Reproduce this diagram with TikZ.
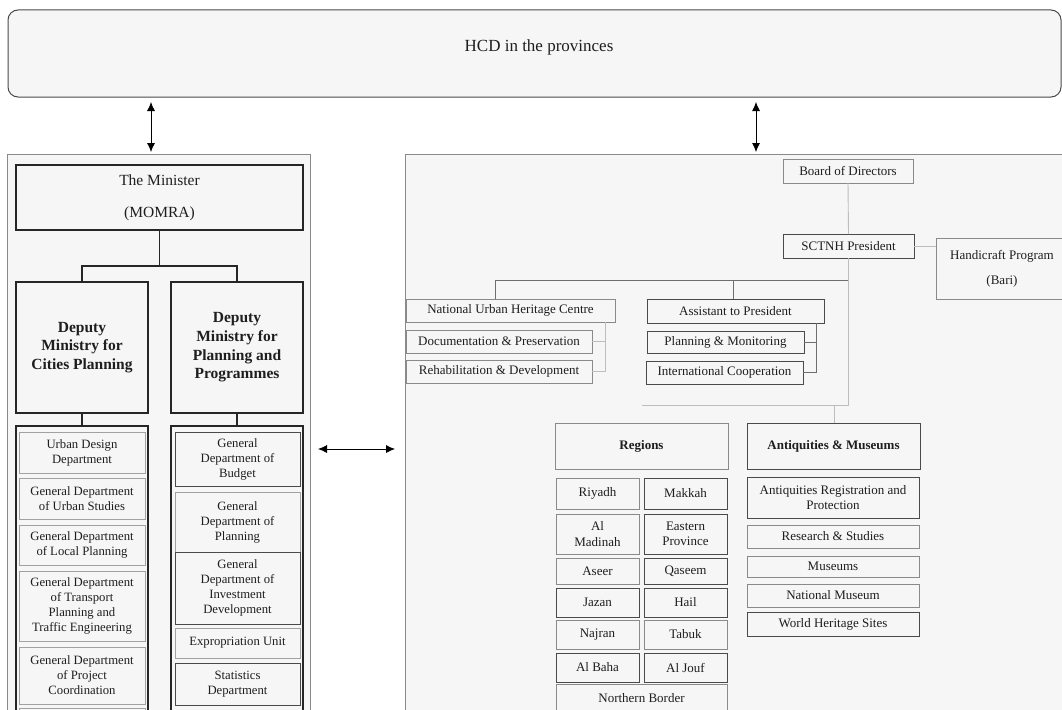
\documentclass[tikz,border=0pt]{standalone}
\usepackage{fontspec}
\setmainfont{Liberation Serif}
\usetikzlibrary{arrows.meta}
\definecolor{pfill}{HTML}{F6F6F6}
\definecolor{txt}{HTML}{1E1E1E}
\definecolor{lgray}{HTML}{BDBDBD}
\definecolor{mgray}{HTML}{8A8A8A}
\definecolor{dgray}{HTML}{4A4A4A}
\newcommand\bx[7]{\node[#6, minimum width={#4-#2}, minimum height={#5-#3}] (#1) at ({(#2+#4)/2},{(#3+#5)/2}) {#7};}
\begin{document}
\begin{tikzpicture}[x=1pt,y=-1pt,
  every node/.style={inner sep=0pt, outer sep=0pt, align=center, text=txt},
  panel/.style={draw=mgray, line width=1pt, fill=pfill},
  topbox/.style={draw=dgray, line width=1pt, fill=pfill, rounded corners=10pt},
  darkbox/.style={draw=black!85, line width=1.4pt, fill=pfill},
  lbox/.style={draw=mgray!80, line width=1pt, fill=pfill, font=\fontsize{12.7}{15}\selectfont},
  lboxd/.style={lbox, draw=dgray},
  rbox/.style={draw=mgray, line width=0.9pt, fill=pfill, font=\fontsize{13}{15.5}\selectfont},
  rboxd/.style={rbox, draw=dgray},
  hdr/.style={draw=mgray, line width=1pt, fill=pfill, font=\fontsize{13}{15.5}\selectfont\bfseries},
  depfont/.style={font=\fontsize{15.5}{18.7}\selectfont\bfseries},
  darkline/.style={draw=black!85, line width=1.4pt},
  midline/.style={draw=dgray!80, line width=1pt},
  lightline/.style={draw=lgray, line width=0.9pt},
  arr/.style={{Latex[length=9pt,width=8pt]}-{Latex[length=9pt,width=8pt]}, line width=0.8pt, draw=black}
]
\useasboundingbox (0,0) rectangle (1062,709);
\fill[white] (0,0) rectangle (1062,709);
\clip (0,0) rectangle (1062,709);

% top
\node[topbox, minimum width=1053, minimum height=87] (hcd) at (534.5,53.5) {};
\node[font=\fontsize{17}{20}\selectfont] (hcdt) at (539,47) {HCD in the provinces};

% panels
\bx{lp}{7}{154}{310}{750}{panel}{}
\bx{rp}{405}{154}{1075}{750}{panel}{}

% arrows
\coordinate (ax1) at (151,0);
\coordinate (ax2) at (756,0);
\coordinate (ay) at (0,449);
\draw[arr, shorten <=5pt, shorten >=2pt] (hcd.south -| ax1) -- (lp.north -| ax1);
\draw[arr, shorten <=5pt, shorten >=2pt] (hcd.south -| ax2) -- (rp.north -| ax2);
\draw[arr, shorten <=8pt, shorten >=10pt] (lp.east |- ay) -- (rp.west |- ay);

% ---------------- left panel ----------------
\bx{minister}{16}{165}{303}{230}{darkbox, font=\fontsize{15.5}{32}\selectfont}{The Minister\\(MOMRA)}
\bx{d1}{16}{282}{148}{413}{darkbox, depfont}{Deputy\\Ministry for\\Cities Planning}
\bx{d2}{171}{282}{303}{413}{darkbox, depfont}{Deputy\\Ministry for\\Planning and\\Programmes}
\coordinate (j1) at (159.5,266);
\draw[darkline] (minister.south) -- (j1);
\draw[darkline] (d1.north) |- (j1) -| (d2.north);

\bx{c1}{16}{426}{148}{760}{darkbox}{}
\bx{c2}{171}{426}{303}{760}{darkbox}{}
\draw[darkline] (d1.south) -- (c1.north);
\draw[darkline] (d2.south) -- (c2.north);

\bx{ud}{19}{432}{145}{473}{lbox}{Urban Design\\Department}
\bx{us}{19}{478}{145}{519}{lbox}{General Department\\of Urban Studies}
\bx{lpl}{19}{525}{145}{565}{lbox}{General Department\\of Local Planning}
\bx{tr}{19}{571}{145}{641}{lbox}{General Department\\of Transport\\Planning and\\Traffic Engineering}
\bx{pc}{19}{647}{145}{704}{lbox}{General Department\\of Project\\Coordination}
\bx{nx}{19}{708}{145}{740}{lbox}{}

\bx{bud}{175}{432}{300}{486}{lboxd}{General\\Department of\\Budget}
\bx{pln}{175}{492}{300}{552}{lbox}{General\\Department of\\Planning}
\bx{inv}{175}{552}{300}{624}{lboxd}{General\\Department of\\Investment\\Development}
\bx{exp}{175}{628}{300}{658}{lbox}{Expropriation Unit}
\bx{stat}{175}{663}{300}{705}{lboxd}{Statistics\\Department}

% ---------------- right panel ----------------
\bx{bod}{783}{159}{913}{183}{rbox}{Board of Directors}
\bx{pres}{783}{234}{914}{258}{rboxd}{SCTNH President}
\bx{hc}{936}{238}{1068}{299}{rbox, font=\fontsize{13}{25}\selectfont}{Handicraft Program\\(Bari)}
\draw[lightline] (bod.south) -- (pres.north);
\draw[lightline] (pres.east) -- (pres.east -| hc.west);

\bx{nuhc}{406}{299}{615}{322}{rbox}{National Urban Heritage Centre}
\bx{doc}{406}{330}{592}{353}{rbox}{Documentation \& Preservation}
\bx{reh}{406}{360}{592}{383}{rbox}{Rehabilitation \& Development}
\bx{asst}{647}{299}{824}{323}{rboxd}{Assistant to President}
\bx{pm}{647}{331}{804}{353}{rboxd}{Planning \& Monitoring}
\bx{ic}{646}{361}{803}{384}{rboxd}{International Cooperation}

\coordinate (hb) at (0,280);
\coordinate (dn1) at (495,0);
\coordinate (dn2) at (733,0);
\draw[midline] (nuhc.north -| dn1) |- (pres.south |- hb);
\draw[midline] (asst.north -| dn2) -- (hb -| dn2);

\coordinate (br1) at (605,0);
\draw[lightline] (doc.east) -| (nuhc.south -| br1);
\draw[lightline] (reh.east) -| (doc.east -| br1);
\coordinate (br2) at (816,0);
\draw[midline] (pm.east) -| (asst.south -| br2);
\draw[midline] (ic.east) -| (pm.east -| br2);

% lower section
\bx{reg}{555}{423}{728}{469}{hdr}{Regions}
\bx{am}{747}{423}{920}{469}{hdr, draw=dgray}{Antiquities \& Museums}
\coordinate (lb) at (0,405);
\coordinate (dn3) at (834,0);
\draw[lightline] (pres.south) -- (pres.south |- lb) -- (reg.north |- lb);
\draw[lightline] (am.north -| dn3) -- (lb -| dn3);

\bx{riy}{556}{478}{639}{509}{rbox}{Riyadh}
\bx{mak}{644}{478}{727}{509}{rboxd}{Makkah}
\bx{mad}{556}{514}{639}{554}{rbox}{Al\\Madinah}
\bx{eas}{644}{514}{727}{554}{rboxd}{Eastern\\Province}
\bx{ase}{556}{558}{639}{584}{rbox}{Aseer}
\bx{qas}{644}{558}{727}{584}{rboxd}{Qaseem}
\bx{jaz}{556}{588}{639}{617}{rboxd}{Jazan}
\bx{hai}{644}{588}{727}{617}{rboxd}{Hail}
\bx{naj}{556}{620}{639}{649}{rbox}{Najran}
\bx{tab}{644}{620}{727}{649}{rbox}{Tabuk}
\bx{bah}{556}{653}{639}{682}{rboxd}{Al Baha}
\bx{jou}{644}{653}{727}{682}{rboxd}{Al Jouf}
\bx{nb}{556}{684}{727}{712}{rbox}{Northern Border}

\bx{arp}{747}{477}{919}{518}{rboxd}{Antiquities Registration and\\Protection}
\bx{rs}{747}{525}{919}{548}{rbox}{Research \& Studies}
\bx{mus}{747}{556}{919}{577}{rbox}{Museums}
\bx{nm}{747}{584}{919}{607}{rbox}{National Museum}
\bx{whs}{747}{612}{919}{636}{rboxd}{World Heritage Sites}
\end{tikzpicture}
\end{document}
